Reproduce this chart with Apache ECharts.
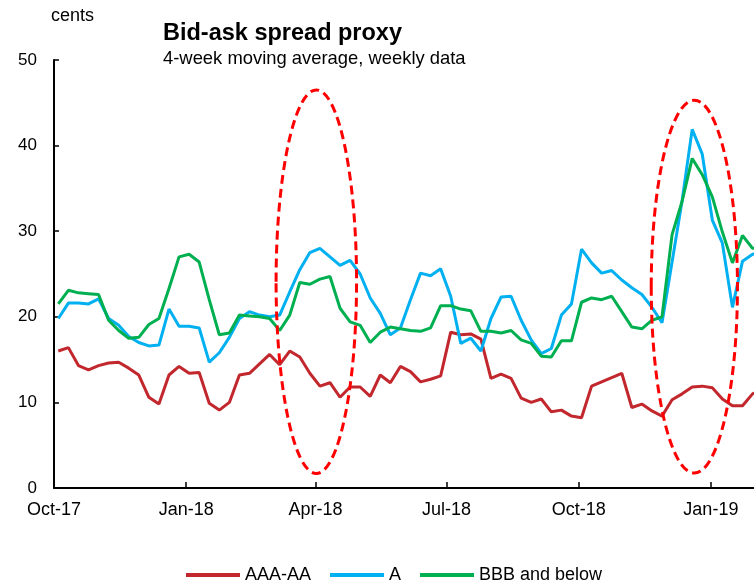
<!DOCTYPE html>
<html><head><meta charset="utf-8">
<script src="https://cdn.jsdelivr.net/npm/echarts@6/dist/echarts.min.js"></script>
<style>html,body{margin:0;padding:0;background:#fff}#c{width:754px;height:584px}</style>
</head><body><div id="c"></div>
<script>
// Weekly observation dates
var dates = ['2017-10-04','2017-10-11','2017-10-18','2017-10-25','2017-11-01','2017-11-08','2017-11-15','2017-11-22','2017-11-29','2017-12-06',
'2017-12-13','2017-12-20','2017-12-27','2018-01-03','2018-01-10','2018-01-17','2018-01-24','2018-01-31','2018-02-07','2018-02-14',
'2018-02-21','2018-02-28','2018-03-07','2018-03-14','2018-03-21','2018-03-28','2018-04-04','2018-04-11','2018-04-18','2018-04-25',
'2018-05-02','2018-05-09','2018-05-16','2018-05-23','2018-05-30','2018-06-06','2018-06-13','2018-06-20','2018-06-27','2018-07-04',
'2018-07-11','2018-07-18','2018-07-25','2018-08-01','2018-08-08','2018-08-15','2018-08-22','2018-08-29','2018-09-05','2018-09-12',
'2018-09-19','2018-09-26','2018-10-03','2018-10-10','2018-10-17','2018-10-24','2018-10-31','2018-11-07','2018-11-14','2018-11-21',
'2018-11-28','2018-12-05','2018-12-12','2018-12-19','2018-12-26','2019-01-02','2019-01-09','2019-01-16','2019-01-23','2019-01-30','2019-02-06'];

var aaaAA = [16.0,16.4,14.3,13.8,14.3,14.6,14.7,14.0,13.2,10.6,
9.8,13.2,14.2,13.4,13.5,9.9,9.1,10.0,13.2,13.4,
14.5,15.6,14.4,16.0,15.3,13.4,11.9,12.3,10.6,11.8,
11.8,10.7,13.2,12.3,14.2,13.6,12.4,12.7,13.1,18.2,
17.9,18.0,17.4,12.8,13.3,12.8,10.5,10.0,10.4,8.9,
9.1,8.4,8.2,11.9,12.4,12.9,13.4,9.4,9.8,9.0,
8.4,10.3,11.0,11.8,11.9,11.7,10.4,9.6,9.6,11.0,11.5];

var ratingA = [19.8,21.6,21.6,21.5,22.1,19.8,19.0,17.7,17.0,16.6,
16.7,20.9,18.9,18.9,18.7,14.7,15.8,17.6,19.8,20.6,
20.2,20.0,20.2,22.9,25.5,27.5,28.0,27.0,26.0,26.6,
25.0,22.2,20.4,17.9,18.7,22.0,25.1,24.8,25.6,22.4,
16.9,17.5,16.0,19.8,22.3,22.4,19.6,17.3,15.7,16.3,
20.2,21.5,27.9,26.3,25.1,25.4,24.3,23.4,22.6,21.1,
19.3,26.4,33.6,41.9,39.0,31.3,28.6,21.1,26.5,27.3,27.6];

var bbbBelow = [21.5,23.1,22.8,22.7,22.6,19.6,18.4,17.5,17.6,19.1,
19.8,23.3,27.0,27.3,26.4,22.0,17.9,18.1,20.2,20.1,
20.0,19.8,18.4,20.2,24.0,23.8,24.4,24.7,21.0,19.4,
19.0,17.0,18.2,18.8,18.6,18.4,18.3,18.7,21.3,21.3,
20.9,20.7,18.3,18.3,18.1,18.4,17.3,16.9,15.4,15.3,
17.2,17.2,21.7,22.2,22.0,22.4,20.6,18.8,18.6,19.6,
20.0,29.6,33.5,38.5,36.6,34.0,29.9,26.3,29.5,28.0,28.0];

var seriesNames = ['AAA-AA','A','BBB and below'];
var tickDates = ['2017-10-01','2018-01-01','2018-04-01','2018-07-01','2018-10-01','2019-01-01'];
var tickLabels = ['Oct-17','Jan-18','Apr-18','Jul-18','Oct-18','Jan-19'];
var axisStart = '2017-10-01', axisEnd = '2019-01-31';

// Highlight ellipses: centre date, half-width (days), top value, bottom value
var ellipseCentre = ['2018-04-01', '2018-12-20'];
var ellipseHalfDays = [28, 30];
var ellipseTop = [46.5, 45.3];
var ellipseBottom = [1.7, 1.75];

function ts(s){var p=s.split('-');return Date.UTC(+p[0],+p[1]-1,+p[2]);}
var DAY = 86400000;
var tickTs = tickDates.map(ts);
function pairs(vals){return vals.map(function(v,i){return [ts(dates[i]), v];});}
var ellData = ellipseCentre.map(function(c,i){return [ts(c)+DAY/2, ellipseHalfDays[i], ellipseTop[i], ellipseBottom[i]];});

var FONT = '"Liberation Sans", Arial, sans-serif';
var chart = echarts.init(document.getElementById('c'), null, {renderer:'canvas'});
chart.setOption({
  animation:false,
  backgroundColor:'#fff',
  textStyle:{fontFamily:FONT},
  title:{text:'Bid-ask spread proxy', subtext:'4-week moving average, weekly data',
    left:158, top:17, itemGap:4,
    textStyle:{fontFamily:FONT, fontSize:23.5, fontWeight:'bold', color:'#000'},
    subtextStyle:{fontFamily:FONT, fontSize:18.4, color:'#000'}},
  graphic:[{type:'text', left:51, top:7, style:{text:'cents', font:'18px '+FONT, fill:'#000'}}],
  legend:{data:seriesNames, left:181, top:561, itemWidth:54, itemHeight:4, itemGap:19, icon:'rect',
    textStyle:{fontFamily:FONT, fontSize:18, color:'#000'}},
  grid:{left:54, right:0, top:60, bottom:96},
  xAxis:{type:'value', min:ts(axisStart), max:ts(axisEnd), scale:true,
    axisLine:{lineStyle:{color:'#000', width:2}},
    axisTick:{show:true, inside:true, length:6, lineStyle:{color:'#000', width:1.5}, customValues:tickTs},
    axisLabel:{customValues:tickTs, fontSize:18, color:'#000', margin:13, fontFamily:FONT,
      formatter:function(v){var i=tickTs.indexOf(v);return i>=0?tickLabels[i]:'';}},
    splitLine:{show:false}},
  yAxis:{type:'value', min:0, max:50, interval:10,
    axisLine:{show:true, lineStyle:{color:'#000', width:2}},
    axisTick:{show:true, inside:true, length:5, lineStyle:{color:'#000', width:1.5}},
    axisLabel:{fontSize:17, color:'#000', margin:17, fontFamily:FONT},
    splitLine:{show:false}},
  series:[
    {name:seriesNames[0], type:'line', data:pairs(aaaAA), showSymbol:false, symbol:'none', color:'#C1272D', lineStyle:{width:3, color:'#C1272D'}},
    {name:seriesNames[1], type:'line', data:pairs(ratingA), showSymbol:false, symbol:'none', color:'#00B0F0', lineStyle:{width:3, color:'#00B0F0'}},
    {name:seriesNames[2], type:'line', data:pairs(bbbBelow), showSymbol:false, symbol:'none', color:'#00B050', lineStyle:{width:3, color:'#00B050'}},
    {type:'custom', silent:true, clip:false, data:ellData, encode:{x:0, y:2}, z:10,
      renderItem:function(params, api){
        var c = api.value(0), h = api.value(1)*DAY;
        var p1 = api.coord([c-h, api.value(2)]);
        var p2 = api.coord([c+h, api.value(3)]);
        return {type:'ellipse', shape:{cx:(p1[0]+p2[0])/2, cy:(p1[1]+p2[1])/2, rx:Math.abs(p2[0]-p1[0])/2, ry:Math.abs(p2[1]-p1[1])/2},
          style:{fill:null, stroke:'#FF0000', lineWidth:3, lineDash:[9,5]}};
      }}
  ]
});
</script></body></html>
